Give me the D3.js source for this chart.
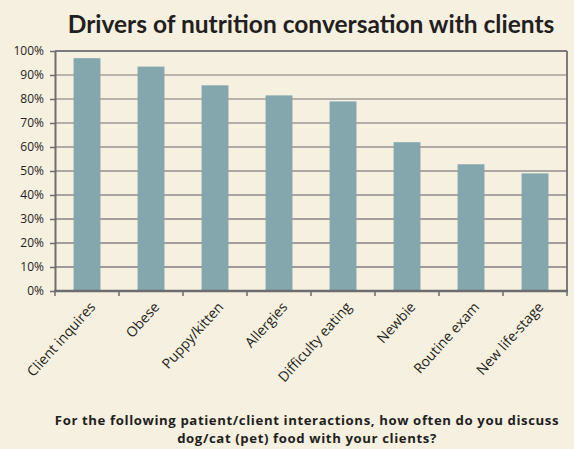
<!DOCTYPE html>
<html>
<head>
<meta charset="utf-8">
<script src="https://cdn.jsdelivr.net/npm/d3@7"></script>
<style>
  body { margin: 0; background: #f5f0df; }
  svg { display: block; }
  text { fill: #231f20; }
</style>
</head>
<body>
<div id="chart"></div>
<script>
// Data
const categories = ['Client inquires', 'Obese', 'Puppy/kitten', 'Allergies',
    'Difficulty eating', 'Newbie', 'Routine exam', 'New life-stage'];
const values = [97, 93.5, 85.7, 81.5, 79, 62, 52.8, 49];
const yTicks = [0, 10, 20, 30, 40, 50, 60, 70, 80, 90, 100];
const titleText = 'Drivers of nutrition conversation with clients';
const footerLines = ['For the following patient/client interactions, how often do you discuss',
    'dog/cat (pet) food with your clients?'];

/**
 * Visual configs.
 */
const visWidth = 574, visHeight = 449,
    margin = { top: 51, right: 7, bottom: 158, left: 55 },
    width = visWidth - margin.left - margin.right,
    height = visHeight - margin.top - margin.bottom,
    labelFont = '"Open Sans", sans-serif';

const svg = d3.select('#chart').append('svg')
    .attr('width', visWidth)
    .attr('height', visHeight);

svg.append('rect')
    .attr('width', visWidth).attr('height', visHeight)
    .attr('fill', '#f5f0df');

const xScale = d3.scaleBand().domain(categories).range([0, width])
    .paddingInner(0.58).paddingOuter(0.29),
    yScale = d3.scaleLinear().domain([0, 100]).range([height, 0]);

const g = svg.append('g')
    .attr('transform', 'translate(' + margin.left + ',' + margin.top + ')');

// Gridlines (lighter towards the top, as in the source)
g.append('g').attr('class', 'grid')
    .selectAll('line').data(yTicks.filter(t => t > 0 && t < 100))
    .enter().append('line')
    .attr('x1', 0).attr('x2', width)
    .attr('y1', d => yScale(d)).attr('y2', d => yScale(d))
    .attr('stroke', d => d3.interpolateRgb('#7a7a7c', '#aaa69e')(d / 100))
    .attr('stroke-width', 1.5);

// Bars
g.append('g').attr('class', 'bars')
    .selectAll('rect').data(values)
    .enter().append('rect')
    .attr('x', (d, i) => xScale(categories[i]))
    .attr('y', d => yScale(d))
    .attr('width', xScale.bandwidth())
    .attr('height', d => height - yScale(d))
    .attr('fill', '#84a7ad');

// Frame: top and right
g.append('line').attr('x1', 0).attr('x2', width).attr('y1', 0).attr('y2', 0)
    .attr('stroke', '#7b7b7d').attr('stroke-width', 2);
g.append('line').attr('x1', width).attr('x2', width).attr('y1', 0).attr('y2', height)
    .attr('stroke', '#7b7b7d').attr('stroke-width', 2);

// Y axis
const yAxis = g.append('g')
    .call(d3.axisLeft(yScale).tickValues(yTicks).tickFormat(d => d + '%').tickSize(5).tickSizeOuter(0));
yAxis.select('.domain').attr('stroke', '#6d6d6f').attr('stroke-width', 2);
yAxis.selectAll('.tick line').attr('stroke', '#6d6d6f').attr('stroke-width', 1.5);
yAxis.selectAll('.tick text')
    .attr('x', -11)
    .style('font-family', labelFont)
    .style('font-size', '12px')
    .attr('fill', '#231f20');

// X axis: ticks at band boundaries
const xAxisG = g.append('g').attr('transform', 'translate(0,' + height + ')');
xAxisG.append('line').attr('x1', -1).attr('x2', width + 1)
    .attr('stroke', '#6d6d6f').attr('stroke-width', 2.5);
const bounds = d3.range(categories.length + 1).map(i => i * xScale.step());
xAxisG.selectAll('.xtick').data(bounds).enter().append('line')
    .attr('class', 'xtick')
    .attr('x1', d => d).attr('x2', d => d)
    .attr('y1', 0).attr('y2', 5)
    .attr('stroke', '#6d6d6f').attr('stroke-width', 1.5);

xAxisG.selectAll('.xlabel').data(categories).enter().append('text')
    .attr('class', 'xlabel')
    .attr('transform', d => 'translate(' + (xScale(d) + xScale.bandwidth() / 2 + 2) + ',10) rotate(-48)')
    .attr('text-anchor', 'end')
    .attr('dy', '0.7em')
    .style('font-family', labelFont)
    .style('font-size', '14px')
    .text(d => d);

// Title
svg.append('text')
    .attr('x', 311).attr('y', 33)
    .attr('text-anchor', 'middle')
    .style('font-family', 'Lato, sans-serif')
    .style('font-weight', 700)
    .style('font-size', '24.5px')
    .text(titleText);

// Footer: two lines, slightly tracked out to fill the same width
svg.append('g').selectAll('text').data(footerLines).enter().append('text')
    .attr('x', 307)
    .attr('y', (d, i) => 425 + i * 18)
    .attr('text-anchor', 'middle')
    .style('font-family', labelFont)
    .style('font-weight', 700)
    .style('font-size', '13.2px')
    .style('letter-spacing', '0.6px')
    .text(d => d);
</script>
</body>
</html>
